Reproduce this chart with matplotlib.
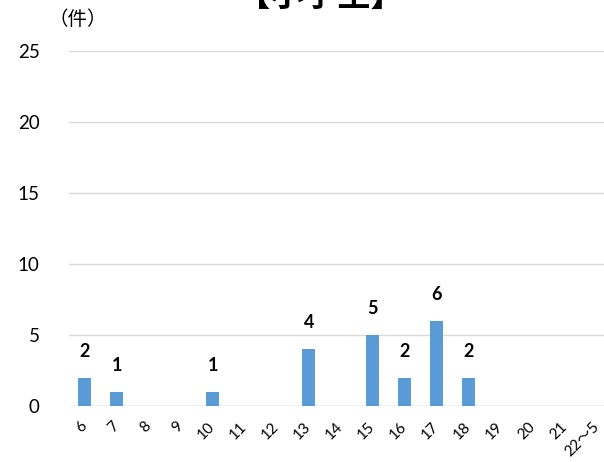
import matplotlib.pyplot as plt
from matplotlib.transforms import ScaledTranslation

plt.rcParams['font.family'] = ['Lato', 'Noto Sans CJK JP', 'DejaVu Sans']

hours = ['6', '7', '8', '9', '10', '11', '12', '13', '14', '15', '16', '17',
         '18', '19', '20', '21', '22～5']
counts = [2, 1, 0, 0, 1, 0, 0, 4, 0, 5, 2, 6, 2, 0, 0, 0, 0]

fig = plt.figure(figsize=(6.04, 4.62), dpi=100)
ax = fig.add_axes([0.114, 0.121, 0.9007, 0.769])

x = range(len(hours))
ax.bar(x, counts, width=0.41, color='#5B9BD5', zorder=3)
for xi, c in zip(x, counts):
    if c > 0:
        ax.text(xi, c + 1.25, str(c), ha='center', va='bottom',
                fontsize=13, fontweight='bold')

ax.set_xlim(-0.5, len(hours) - 0.5)
ax.set_ylim(0, 25)
ax.set_yticks(range(0, 26, 5))
ax.set_xticks(list(x))
ax.set_xticklabels(hours, rotation=45, fontsize=11, ha='right', va='center',
                   rotation_mode='anchor')
shift = ScaledTranslation(0.04, 0, fig.dpi_scale_trans)
for lbl in ax.get_xticklabels():
    lbl.set_transform(lbl.get_transform() + shift)
ax.tick_params(axis='y', labelsize=13.5, length=0, pad=21)
ax.tick_params(axis='x', length=0, pad=13)
ax.grid(axis='y', color='#d9d9d9', linewidth=1, zorder=0)
for s in ax.spines.values():
    s.set_visible(False)
ax.axhline(0, color='#d9d9d9', linewidth=1, zorder=2)

fig.text(0.128, 0.957, '（件）', fontsize=14,
         family=['Noto Sans CJK JP'], ha='center', va='center')
fig.text(0.53, 0.972, '【小学生】', fontsize=24, fontweight='bold',
         family=['Noto Sans CJK JP'], ha='center', va='bottom')

fig.savefig('out.png', dpi=100)
